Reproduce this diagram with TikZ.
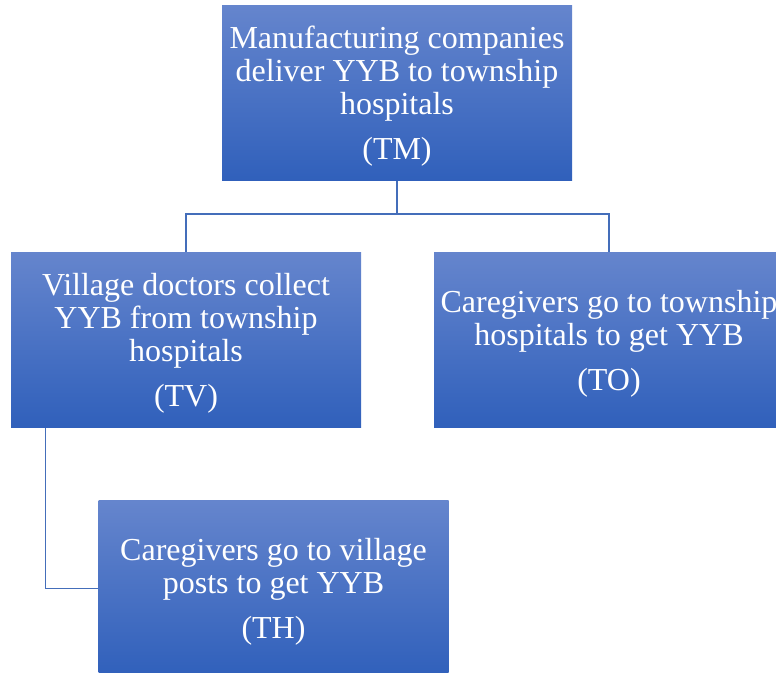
\documentclass[tikz,border=0pt]{standalone}
\usepackage{fontspec}
\setmainfont{Liberation Serif}
\usetikzlibrary{positioning}

\definecolor{boxtop}{RGB}{101,133,205}
\definecolor{boxbottom}{RGB}{48,96,187}
\definecolor{linkblue}{RGB}{68,110,186}

\newcommand{\topstrut}{\rule{0pt}{22pt}}

\tikzset{
	stage/.style = {rectangle, top color=boxtop, bottom color=boxbottom, text=white,
		minimum width=262.5pt, minimum height=131.5pt, inner sep=0pt, align=center,
		font=\fontsize{24}{24.75}\selectfont},
	link/.style = {draw=linkblue, line width=0.8pt}
}

\begin{document}
\begin{tikzpicture}[x=0.75pt, y=-0.75pt]
		\useasboundingbox (0,0) rectangle (776,673);
		\clip (0,0) rectangle (776,673);
		
		\node [stage] (tm) at (397,93) {\topstrut Manufacturing companies\\deliver YYB to township\\hospitals\\[9pt](TM)};
		\node [stage] (tv) at (186,340) {\topstrut Village doctors collect\\YYB from township\\hospitals\\[9pt](TV)};
		\node [stage] (to) at (609,340) {\topstrut Caregivers go to township\\hospitals to get YYB\\[9pt](TO)};
		\node [stage] (th) at (273.5,588.5) {\topstrut Caregivers go to village\\posts to get YYB\\[9pt](TH)};
		
		%links
		\coordinate (split) at (397,214);
		\draw [link] (tm.south) -- (split) -| (tv.north);
		\draw [link] (split) -| (to.north);
		\draw [link] ([xshift=26.25pt]tv.south west) |- (th.west);
	\end{tikzpicture}
\end{document}
